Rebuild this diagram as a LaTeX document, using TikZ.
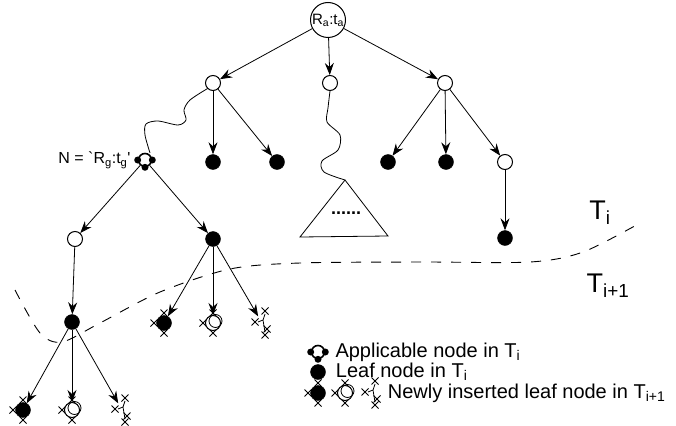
\documentclass[tikz,border=0pt]{standalone}
\usepackage{fontspec}
\setmainfont{Liberation Sans}
\usetikzlibrary{arrows.meta, positioning}
\tikzset{arrow/.style = {draw, line width=0.8pt, -{Stealth[length=12pt,width=9pt,inset=4pt]}}}
\tikzset{opennode/.style = {circle, draw, line width=1pt, minimum size=15pt, inner sep=0pt}}
\tikzset{leafnode/.style = {circle, draw, fill=black, minimum size=15pt, inner sep=0pt}}
\tikzset{appnode/.style = {circle, draw, line width=1.6pt, minimum size=13pt, inner sep=0pt}}
\tikzset{ghost/.style = {circle, minimum size=15pt, inner sep=0pt}}
\tikzset{wavy/.style = {line width=0.8pt}}
\tikzset{border/.style = {line width=0.9pt, dash pattern=on 10pt off 10pt}}
\tikzset{legend/.style = {font=\fontsize{20}{20}\selectfont, inner sep=0pt}}

\newcommand{\xtick}[3]{\draw[line width=0.8pt] ([shift={(#2,#3)}]#1.center) +(-3.5,-3.5) -- +(3.5,3.5) +(-3.5,3.5) -- +(3.5,-3.5);}
\newcommand{\crossmarks}[1]{\xtick{#1}{0}{-10}\xtick{#1}{-10}{0}\xtick{#1}{0}{10}}
\newcommand{\crossrings}[1]{\crossmarks{#1}\draw[line width=0.8pt] ([shift={(2.5,-2)}]#1.center) circle (6.5pt);}
\newcommand{\crossstub}[1]{\xtick{#1}{3}{-12}\xtick{#1}{-7}{-1}\xtick{#1}{5}{6}\xtick{#1}{3}{12}
  \draw[line width=0.8pt] ([shift={(3,-9)}]#1.center) -- ([shift={(1,-3)}]#1.center) -- ([shift={(-4,-1)}]#1.center)
  ([shift={(1,-3)}]#1.center) -- ([shift={(2,3)}]#1.center) -- ([shift={(3,9)}]#1.center);}
\newcommand{\appdots}[1]{\fill (#1.west) circle (3.5pt) (#1.east) circle (3.5pt) (#1.south) circle (3.5pt);}

\begin{document}
\begin{tikzpicture}[x=1pt, y=-1pt]
\useasboundingbox (0,0) rectangle (676,425);

% tree T_i
\node[opennode, minimum size=35pt, font=\fontsize{15}{15}\selectfont] (root) at (328,20) {R\textsubscript{a}:t\textsubscript{a}};
\node[opennode] (a) at (213,83) {};
\node[opennode] (b) at (330,83) {};
\node[opennode] (c) at (445,83) {};
\node[leafnode] (a1) at (213,162) {};
\node[leafnode] (a2) at (277,162) {};
\node[leafnode] (c1) at (388,162) {};
\node[leafnode] (c2) at (446,162) {};
\node[opennode] (c3) at (505,162) {};
\node[leafnode] (c31) at (505,238) {};

\node[appnode] (n) at (145,160) {};
\appdots{n}
\node[left=7pt of n, inner sep=0pt, font=\fontsize{16}{16}\selectfont] (nlab) {N = \textasciigrave R\textsubscript{g}:t\textsubscript{g}\textquotesingle};
\node[opennode] (n1) at (75,239) {};
\node[leafnode] (n2) at (213,239) {};
\node[leafnode] (n11) at (72,322) {};

% new leaves of T_i+1
\node[leafnode] (n21) at (164,323) {};
\node[opennode] (n22) at (213,323) {};
\node[ghost] (n23) at (262,323) {};
\node[leafnode] (n111) at (23,410) {};
\node[opennode] (n112) at (72,410) {};
\node[ghost] (n113) at (122,410) {};
\crossmarks{n21} \crossrings{n22} \crossstub{n23}
\crossmarks{n111} \crossrings{n112} \crossstub{n113}

\draw[arrow] (root) -- (a);
\draw[arrow] (root) -- (b);
\draw[arrow] (root) -- (c);
\draw[arrow] (a) -- (a1);
\draw[arrow] (a) -- (a2);
\draw[arrow] (c) -- (c1);
\draw[arrow] (c) -- (c2);
\draw[arrow] (c) -- (c3);
\draw[arrow] (c3) -- (c31);
\draw[arrow] (n) -- (n1);
\draw[arrow] (n) -- (n2);
\draw[arrow] (n1) -- (n11);
\draw[arrow] (n2) -- (n21);
\draw[arrow] (n2) -- (n22);
\draw[arrow] (n2) -- (n23);
\draw[arrow] (n11) -- (n111);
\draw[arrow] (n11) -- (n112);
\draw[arrow] (n11) -- (n113);

% subtree
\coordinate (tri) at (345,180);
\draw[line width=0.8pt] (tri) -- (300,237) -- (388,236) -- cycle;
\node[font=\fontsize{18}{18}\selectfont\bfseries] (dots) at (346,213) {......};

% wavy paths
\draw[wavy] plot[smooth] coordinates {(a.south west) (190,100) (184,110) (186,120) (178,125) (158,121) (146,124) (145,135) (150,153)};
\draw[wavy] plot[smooth] coordinates {(b.south) (328,108) (327,122) (340,135) (338,150) (322,161) (324,172) (tri)};

% boundary between T_i and T_i+1
\draw[border] plot[smooth] coordinates {(15,290) (40,333) (62,342) (100,323) (160,292) (230,269) (300,263) (420,262) (530,262) (583,252) (640,223)};
\node[font=\fontsize{27}{27}\selectfont] (ti) at (600,213) {T\textsubscript{i}};
\node[font=\fontsize{27}{27}\selectfont] (tnext) at (608,286) {T\textsubscript{i+1}};

% legend
\node[appnode] (lg1) at (318,352) {};
\appdots{lg1}
\node[leafnode] (lg2) at (318,372) {};
\node[leafnode] (lg3) at (318,393) {};
\node[opennode] (lg4) at (345,393) {};
\node[ghost] (lg5) at (372,393) {};
\crossmarks{lg3} \crossrings{lg4} \crossstub{lg5}
\node[legend, right=10pt of lg1] (lt1) {Applicable node in T\textsubscript{i}};
\node[legend, right=10pt of lg2] (lt2) {Leaf node in T\textsubscript{i}};
\node[legend, right=8pt of lg5] (lt3) {Newly inserted leaf node in T\textsubscript{i+1}};
\end{tikzpicture}
\end{document}
